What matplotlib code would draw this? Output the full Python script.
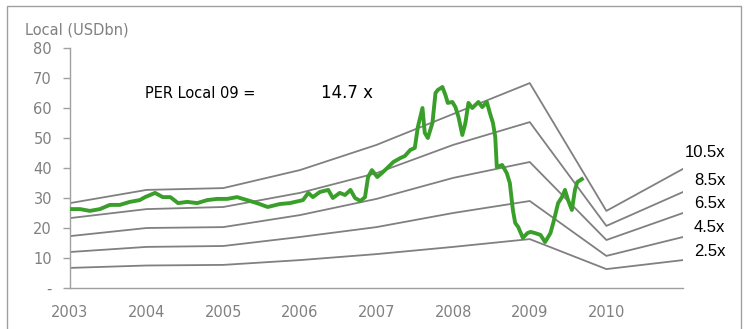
import matplotlib
matplotlib.use("Agg")
import matplotlib.pyplot as plt
from matplotlib.patches import Rectangle

# PER band lines, one value per year end point (2003 .. 2011)
band_years = [2003, 2004, 2005, 2006, 2007, 2008, 2009, 2010, 2011]
band_105 = [28.3, 32.7, 33.3, 39.3, 47.7, 58.0, 68.3, 25.7, 39.7]
band_85 = [23.3, 26.3, 27.0, 31.7, 38.3, 47.7, 55.3, 20.7, 32.0]
band_65 = [17.3, 20.0, 20.3, 24.3, 29.7, 36.7, 42.0, 16.0, 25.0]
band_45 = [12.0, 13.7, 14.0, 17.0, 20.3, 25.0, 29.0, 10.7, 17.0]
band_25 = [6.7, 7.5, 7.7, 9.3, 11.3, 13.7, 16.3, 6.3, 9.3]
band_labels = ["10.5x", "8.5x", "6.5x", "4.5x", "2.5x"]
label_y = [45.3, 35.7, 28.0, 20.0, 12.3]

# market cap
cap_t = [0.00, 0.13, 0.26, 0.39, 0.52, 0.65, 0.78, 0.91, 0.98, 1.11, 1.21, 1.31,
         1.41, 1.53, 1.66, 1.79, 1.92, 2.05, 2.18, 2.31, 2.44, 2.58, 2.74, 2.87,
         3.04, 3.11, 3.17, 3.26, 3.37, 3.43, 3.52, 3.59, 3.66, 3.72, 3.79, 3.85,
         3.89, 3.94, 4.01, 4.07, 4.14, 4.22, 4.31, 4.37, 4.44, 4.50, 4.54, 4.60,
         4.63, 4.67, 4.73, 4.77, 4.80, 4.86, 4.90, 4.93, 4.99, 5.03, 5.07, 5.12,
         5.16, 5.20, 5.25, 5.29, 5.33, 5.38, 5.44, 5.48, 5.52, 5.55, 5.57, 5.64,
         5.70, 5.74, 5.78, 5.81, 5.85, 5.91, 5.97, 6.01, 6.07, 6.14, 6.20, 6.27,
         6.31, 6.37, 6.42, 6.46, 6.50, 6.55, 6.59, 6.62, 6.68]
cap_v = [26.3, 26.3, 25.7, 26.3, 27.7, 27.7, 28.7, 29.3, 30.3, 31.7, 30.3, 30.3,
         28.3, 28.7, 28.3, 29.3, 29.7, 29.7, 30.3, 29.3, 28.3, 27.0, 28.0, 28.3,
         29.3, 31.7, 30.3, 32.0, 32.7, 30.0, 31.7, 31.0, 32.7, 30.0, 29.0, 30.3,
         37.0, 39.3, 37.0, 38.3, 40.0, 42.0, 43.3, 44.0, 46.0, 46.7, 53.7, 60.0,
         51.7, 50.0, 55.0, 65.0, 66.0, 67.0, 64.3, 61.7, 62.0, 60.3, 57.0, 51.0,
         55.0, 61.7, 60.0, 61.0, 62.0, 60.3, 62.0, 58.3, 55.0, 50.3, 40.3, 41.0,
         38.3, 35.0, 26.0, 21.7, 20.3, 16.7, 18.3, 18.7, 18.3, 17.7, 15.3, 18.3,
         22.0, 28.3, 30.3, 32.7, 29.3, 26.0, 32.7, 35.3, 36.3]
cap_x = [2003 + t for t in cap_t]

year_ticks = [2003, 2004, 2005, 2006, 2007, 2008, 2009, 2010]
y_ticks = [0, 10, 20, 30, 40, 50, 60, 70, 80]
y_ticklabels = ["-", "10", "20", "30", "40", "50", "60", "70", "80"]

grey = "#808080"
fig = plt.figure(figsize=(7.44, 3.29), dpi=100)
ax = fig.add_axes([70/744, 41/329, 613/744, 240/329])

for band in [band_105, band_85, band_65, band_45, band_25]:
    ax.plot(band_years, band, color=grey, lw=1.3, zorder=2)
ax.plot(cap_x, cap_v, color="#3a9f2a", lw=2.8, zorder=3, solid_joinstyle="round")

ax.set_xlim(2003, 2011)
ax.set_ylim(0, 80)
ax.set_xticks(year_ticks)
ax.set_xticklabels([str(y) for y in year_ticks])
ax.set_yticks(y_ticks)
ax.set_yticklabels(y_ticklabels)
ax.tick_params(axis="x", length=0, pad=12, labelsize=10.5, labelcolor=grey)
ax.tick_params(axis="y", length=5, width=1, color="#a0a0a0", pad=8,
               labelsize=10.5, labelcolor=grey)
for s in ["top", "right"]:
    ax.spines[s].set_visible(False)
for s in ["left", "bottom"]:
    ax.spines[s].set_color("#a0a0a0")
    ax.spines[s].set_linewidth(1)

for lab, yy in zip(band_labels, label_y):
    ax.text(2011.55, yy, lab, ha="right", va="center", fontsize=12,
            family="Liberation Sans", color="black", clip_on=False)

fig.text(25/744, 1 - 30/329, "Local (USDbn)", fontsize=10.5, color=grey,
         va="center", ha="left")
fig.text(145/744, 1 - 93/329, "PER Local 09 =", fontsize=10.5, color="black",
         va="center", ha="left")
fig.text(321/744, 1 - 93/329, "14.7 x", fontsize=12, color="black",
         va="center", ha="left")

fig.patches.append(Rectangle((7/744, -0.02), 734/744, 1.02 - 6/329,
                             transform=fig.transFigure, fill=False,
                             edgecolor="#a0a0a0", lw=1))

fig.savefig("out.png", dpi=100)
